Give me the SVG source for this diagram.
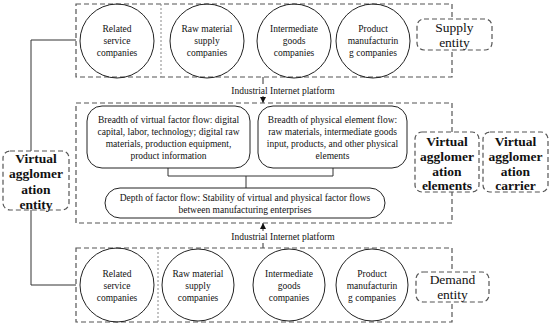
<svg xmlns="http://www.w3.org/2000/svg" width="550" height="326" viewBox="0 0 550 326">
<defs>
<style>
text{font-family:"Liberation Serif","Times New Roman",serif;fill:#111;text-anchor:middle}
.c{font-size:9.5px}
.b{font-size:9.5px}
.e{font-size:13.5px}
.v{font-size:13.5px;font-weight:bold}
.p{font-size:9.5px}
.dash{fill:none;stroke:#555;stroke-width:1.2;stroke-dasharray:5,3}
.dashw{fill:#fff;stroke:#555;stroke-width:1.2;stroke-dasharray:5,3}
.dot{fill:none;stroke:#888;stroke-width:1;stroke-dasharray:2,2}
.circ{fill:none;stroke:#222;stroke-width:1}
.rb{fill:#fff;stroke:#222;stroke-width:1}
.ln{fill:none;stroke:#333;stroke-width:1}
</style>
<marker id="ah" viewBox="0 0 10 10" refX="10" refY="5" markerWidth="6" markerHeight="6" orient="auto-start-reverse" markerUnits="userSpaceOnUse">
<path d="M0,0 L10,5 L0,10 z" fill="#111"/>
</marker>
</defs>

<g id="connectors">
<path class="ln" d="M76,40 H31 V151"/>
<path class="ln" d="M31,210 V285 H76"/>
<path class="ln" d="M263,77 V84"/>
<path class="ln" d="M263,96 V103" marker-end="url(#ah)"/>
<path class="ln" d="M263,248 V243"/>
<path class="ln" d="M263,231 V223" marker-end="url(#ah)"/>
<path class="ln" d="M168,168 V176 H333 V168"/>
<path class="ln" d="M246,176 V188"/>
</g>

<g id="supply-group">
<rect class="dash" x="76" y="4" width="376" height="73"/>
<line class="dot" x1="161" y1="4" x2="161" y2="77"/>
</g>
<g id="s1"><circle class="circ" cx="117" cy="41" r="37"/>
<text class="c" x="117" y="32">Related</text><text class="c" x="117" y="44">service</text><text class="c" x="117" y="56">companies</text></g>
<g id="s2"><circle class="circ" cx="207" cy="41" r="37"/>
<text class="c" x="207" y="32">Raw material</text><text class="c" x="207" y="44">supply</text><text class="c" x="207" y="56">companies</text></g>
<g id="s3"><circle class="circ" cx="294" cy="41" r="37"/>
<text class="c" x="294" y="32">Intermediate</text><text class="c" x="294" y="44">goods</text><text class="c" x="294" y="56">companies</text></g>
<g id="s4"><circle class="circ" cx="373" cy="41" r="37"/>
<text class="c" x="373" y="32">Product</text><text class="c" x="373" y="44">manufacturin</text><text class="c" x="373" y="56">g companies</text></g>
<g id="supply-entity"><rect class="dashw" x="417" y="19" width="75" height="31" rx="7"/>
<text class="e" x="454.5" y="32">Supply</text><text class="e" x="454.5" y="47">entity</text></g>

<g id="platform-top"><text class="p" x="283" y="94">Industrial Internet platform</text></g>

<g id="middle-group"><rect class="dash" x="76" y="103" width="376" height="120"/></g>
<g id="virtual-flow"><rect class="rb" x="87" y="106" width="163" height="62" rx="15"/>
<text class="b" x="168.5" y="123">Breadth of virtual factor flow: digital</text>
<text class="b" x="168.5" y="135">capital, labor, technology; digital raw</text>
<text class="b" x="168.5" y="147">materials, production equipment,</text>
<text class="b" x="168.5" y="159">product information</text></g>
<g id="physical-flow"><rect class="rb" x="258" y="106" width="149" height="62" rx="15"/>
<text class="b" x="332.5" y="123">Breadth of physical element flow:</text>
<text class="b" x="332.5" y="135">raw materials, intermediate goods</text>
<text class="b" x="332.5" y="147">input, products, and other physical</text>
<text class="b" x="332.5" y="159">elements</text></g>
<g id="depth-flow"><rect class="rb" x="105" y="188" width="280" height="30" rx="15"/>
<text class="b" x="245" y="201">Depth of factor flow: Stability of virtual and physical factor flows</text>
<text class="b" x="245" y="213">between manufacturing enterprises</text></g>

<g id="va-elements"><rect class="dashw" x="415" y="132" width="64" height="60" rx="7"/>
<text class="v" x="447" y="146">Virtual</text><text class="v" x="447" y="161">agglomer</text><text class="v" x="447" y="176">ation</text><text class="v" x="447" y="190">elements</text></g>
<g id="va-carrier"><rect class="dashw" x="483" y="132" width="65" height="60" rx="7"/>
<text class="v" x="515.5" y="146">Virtual</text><text class="v" x="515.5" y="161">agglomer</text><text class="v" x="515.5" y="176">ation</text><text class="v" x="515.5" y="190">carrier</text></g>
<g id="va-entity"><rect class="dashw" x="3" y="151" width="66" height="59" rx="7"/>
<text class="v" x="36" y="163">Virtual</text><text class="v" x="36" y="178">agglomer</text><text class="v" x="36" y="194">ation</text><text class="v" x="36" y="209">entity</text></g>

<g id="platform-bottom"><text class="p" x="283" y="240">Industrial Internet platform</text></g>

<g id="demand-group">
<rect class="dash" x="76" y="248" width="376" height="74"/>
<line class="dot" x1="158" y1="248" x2="158" y2="322"/>
</g>
<g id="d1"><circle class="circ" cx="117" cy="285" r="37"/>
<text class="c" x="117" y="277">Related</text><text class="c" x="117" y="289">service</text><text class="c" x="117" y="301">companies</text></g>
<g id="d2"><circle class="circ" cx="198" cy="285" r="36"/>
<text class="c" x="198" y="277">Raw material</text><text class="c" x="198" y="289">supply</text><text class="c" x="198" y="301">companies</text></g>
<g id="d3"><circle class="circ" cx="289" cy="285" r="36"/>
<text class="c" x="289" y="277">Intermediate</text><text class="c" x="289" y="289">goods</text><text class="c" x="289" y="301">companies</text></g>
<g id="d4"><circle class="circ" cx="372" cy="285" r="36"/>
<text class="c" x="372" y="277">Product</text><text class="c" x="372" y="289">manufacturin</text><text class="c" x="372" y="301">g companies</text></g>
<g id="demand-entity"><rect class="dashw" x="416" y="272" width="73" height="30" rx="7"/>
<text class="e" x="452.5" y="284">Demand</text><text class="e" x="452.5" y="299">entity</text></g>
</svg>
